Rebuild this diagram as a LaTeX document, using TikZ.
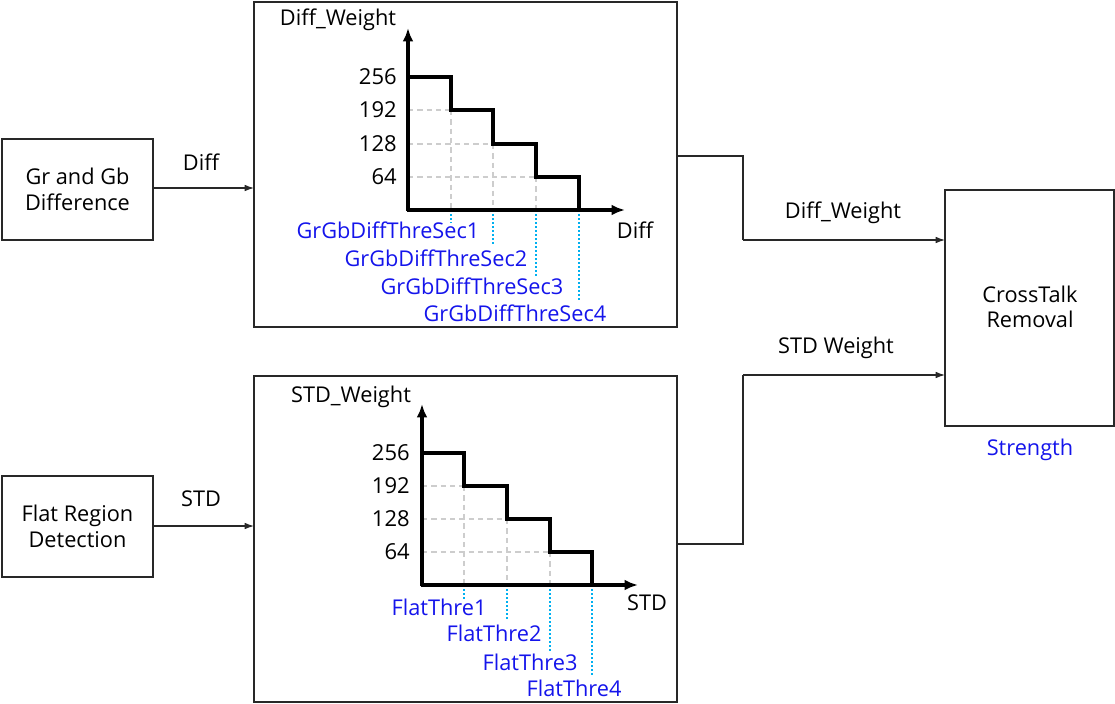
\documentclass[tikz,border=0pt]{standalone}
\usepackage{fontspec}
\setmainfont{Open Sans}
\usetikzlibrary{arrows.meta}
\definecolor{lbl}{RGB}{20,20,235}
\definecolor{dotc}{RGB}{0,176,240}
\definecolor{grid}{RGB}{205,205,205}
\definecolor{edge}{RGB}{40,40,40}
\tikzset{
  box/.style={draw=edge, line width=0.9pt, inner sep=0pt, outer sep=0pt, align=center, font=\fontsize{16.3}{19}\selectfont},
  txt/.style={inner sep=0pt, font=\fontsize{16.3}{19}\selectfont},
  tick/.style={inner sep=0pt, anchor=east, font=\fontsize{16.5}{19}\selectfont},
  blue/.style={inner sep=0pt, text=lbl, font=\fontsize{16.3}{19}\selectfont},
  axis/.style={line width=2.3pt, -{Latex[length=10pt,width=8pt]}},
  stair/.style={line width=2.3pt, line join=miter},
  gridl/.style={grid, line width=1.2pt, dash pattern=on 4pt off 3pt},
  dotl/.style={dotc, line width=0.9pt, dash pattern=on 1.5pt off 1.5pt},
  arr/.style={edge, line width=0.9pt, -{Latex[length=7pt,width=5pt]}},
  conn/.style={edge, line width=0.9pt}
}
\begin{document}
\begin{tikzpicture}[x=0.75pt,y=-0.75pt]
\useasboundingbox (0,0) rectangle (1115,704);
% boxes
\node[box, minimum width=113.25pt, minimum height=75.75pt] (g1) at (77.5,189.5) {Gr and Gb\\Difference};
\node[box, minimum width=113.25pt, minimum height=75.75pt] (g2) at (77.5,526.5) {Flat Region\\Detection};
\node[box, minimum width=317.25pt, minimum height=243.75pt] (c1) at (465.5,164.5) {};
\node[box, minimum width=317.25pt, minimum height=244.5pt] (c2) at (465.5,539) {};
\node[box, minimum width=126.75pt, minimum height=177pt] (ct) at (1029.5,308) {};
\node[txt, align=center] (ctl) at (1030,307) {CrossTalk\\Removal};
\node[blue] (str) at (1030,450) {Strength};

% left connectors
\coordinate (a1) at (0,188);
\coordinate (a2) at (0,526);
\draw[arr] (g1.east |- a1) -- (c1.west |- a1);
\draw[arr] (g2.east |- a2) -- (c2.west |- a2);
\node[txt] (ldiff) at (201,162) {Diff};
\node[txt] (lstd) at (201,499) {STD};

% right connectors
\coordinate (o1) at (743,156);
\coordinate (i1) at (743,240);
\coordinate (o2) at (743,544);
\coordinate (i2) at (743,375);
\draw[conn] (c1.east |- o1) -- (o1) -- (i1);
\draw[arr] (i1) -- (ct.west |- i1);
\draw[conn] (c2.east |- o2) -- (o2) -- (i2);
\draw[arr] (i2) -- (ct.west |- i2);
\node[txt] (ldw) at (843,213) {Diff\_Weight};
\node[txt] (lsw) at (836,348) {STD Weight};

% chart 1
\coordinate (O1) at (408,210);
\coordinate (Y1) at (408,28);
\coordinate (X1) at (625,210);
\draw[gridl] (408,110) -- (451,110) (408,144) -- (493,144) (408,177) -- (536,177);
\draw[gridl] (451,110) -- (451,210) (493,144) -- (493,210) (536,177) -- (536,210);
\draw[dotl] (451,210) -- (451,223) (493,210) -- (493,245) (536,210) -- (536,276) (579,210) -- (579,302);
\draw[stair] (408,77) -- (451,77) -- (451,110) -- (493,110) -- (493,144) -- (536,144) -- (536,177) -- (579,177) -- (579,210);
\draw[axis] ([yshift=-0.6pt]O1) -- (Y1);
\draw[axis] ([xshift=-0.6pt]O1) -- (X1);
\node[txt] (t1) at (338,20) {Diff\_Weight};
\node[txt] (x1) at (635,230) {Diff};
\node[tick] (k1a) at (397,77) {256};
\node[tick] (k1b) at (397,110) {192};
\node[tick] (k1c) at (397,144) {128};
\node[tick] (k1d) at (397,177) {64};
\node[blue] (s1) at (388,230) {GrGbDiffThreSec1};
\node[blue] (s2) at (436,258) {GrGbDiffThreSec2};
\node[blue] (s3) at (472,286) {GrGbDiffThreSec3};
\node[blue] (s4) at (515,313) {GrGbDiffThreSec4};

% chart 2
\coordinate (O2) at (422,585);
\coordinate (Y2) at (422,404);
\coordinate (X2) at (638,585);
\draw[gridl] (422,486) -- (464,486) (422,519) -- (507,519) (422,552) -- (550,552);
\draw[gridl] (464,486) -- (464,585) (507,519) -- (507,585) (550,552) -- (550,585);
\draw[dotl] (464,585) -- (464,599) (507,585) -- (507,620) (550,585) -- (550,652) (592,585) -- (592,677);
\draw[stair] (422,453) -- (464,453) -- (464,486) -- (507,486) -- (507,519) -- (550,519) -- (550,552) -- (592,552) -- (592,585);
\draw[axis] ([yshift=-0.6pt]O2) -- (Y2);
\draw[axis] ([xshift=-0.6pt]O2) -- (X2);
\node[txt] (t2) at (351,397) {STD\_Weight};
\node[txt] (x2) at (647,603) {STD};
\node[tick] (k2a) at (410,453) {256};
\node[tick] (k2b) at (410,486) {192};
\node[tick] (k2c) at (410,519) {128};
\node[tick] (k2d) at (410,552) {64};
\node[blue] (f1) at (439,607) {FlatThre1};
\node[blue] (f2) at (494,633) {FlatThre2};
\node[blue] (f3) at (530,662) {FlatThre3};
\node[blue] (f4) at (574,688) {FlatThre4};
\end{tikzpicture}
\end{document}
